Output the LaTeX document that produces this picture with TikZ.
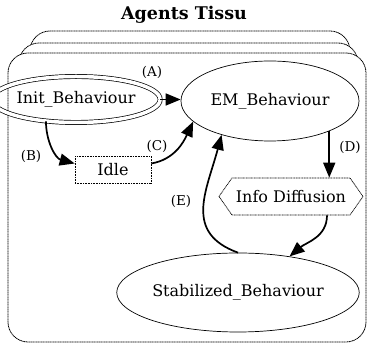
\documentclass[tikz,border=0pt]{standalone}
\usepackage{fontspec}
\setmainfont{DejaVu Serif}
\usetikzlibrary{shapes.geometric,shapes.symbols,arrows.meta}
\begin{document}
\begin{tikzpicture}[x=1pt,y=1pt,
  every node/.style={font=\fontsize{16}{19}\selectfont},
  stackbox/.style={draw, dash pattern=on 1.2pt off 0.5pt, fill=white, rounded corners=20pt, line width=0.8pt},
  ell/.style={ellipse, draw, line width=0.7pt, inner sep=0pt},
  dotbox/.style={draw, dash pattern=on 1pt off 0.6pt, line width=0.7pt, inner sep=0pt},
  edge/.style={line width=1.7pt, -{Triangle[length=15pt,width=12pt]}},
  lbl/.style={font=\fontsize{13.5}{16}\selectfont, inner sep=0pt}]
\useasboundingbox (0,0) rectangle (368,345);
\node[font=\bfseries\fontsize{17.5}{21}\selectfont] (title) at (184,330) {Agents Tissu};
\draw[stackbox] (30,20) rectangle (350,314);
\draw[stackbox] (19,12) rectangle (358,302);
\draw[stackbox] (8,3) rectangle (366,292);
\node[ell, double, double distance=3.5pt, minimum width=135pt, minimum height=46pt] (init) at (76,245.5) {Init\_Behaviour};
\node[ell, minimum width=178pt, minimum height=80pt] (em) at (270,244) {EM\_Behaviour};
\node[dotbox, minimum width=76pt, minimum height=27pt] (idle) at (113,175.5) {Idle};
\node[dotbox, signal, signal to=west and east, signal pointer angle=110, minimum width=144pt, minimum height=37pt] (info) at (291,148.5) {Info Diffusion};
\node[ell, minimum width=190pt, minimum height=79pt] (stab) at (238,52.5) {Stabilized\_Behaviour};
\draw[edge] (init.east) -- (init.east -| em.west);
\draw[edge] (init.-144) to[out=-90,in=165] ([yshift=6pt]idle.west);
\draw[edge] ([yshift=6pt]idle.east) to[out=10,in=-115] (em.-165);
\draw[edge] (em.-27) -- (em.-27 |- info.north);
\draw[edge] ([xshift=36pt]info.south) to[out=-90,in=40] (stab.35);
\draw[edge] (stab.north) to[out=160,in=-105,looseness=1.25] (em.-145);
\node[lbl] (la) at (152,273) {(A)};
\node[lbl] (lb) at (31,189) {(B)};
\node[lbl] (lc) at (157,199) {(C)};
\node[lbl] (ld) at (350,198) {(D)};
\node[lbl] (le) at (181,144) {(E)};
\end{tikzpicture}
\end{document}
